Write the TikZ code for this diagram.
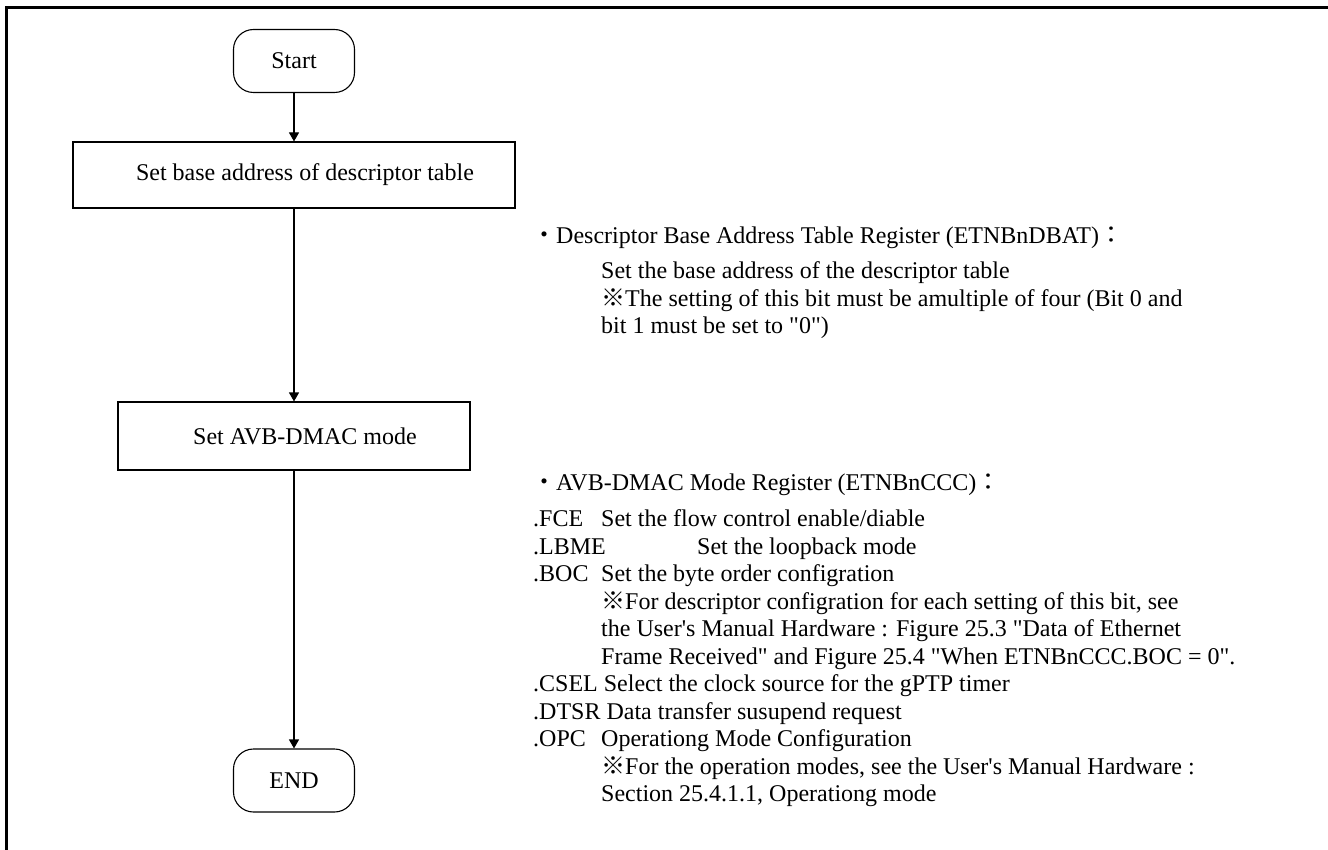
\documentclass[tikz,border=0pt]{standalone}
\usepackage{fontspec}
\setmainfont{Liberation Serif}[Ligatures=TeXOff]
\newfontfamily\cjkfont{Noto Sans CJK JP}
\usetikzlibrary{arrows.meta}
\newcommand{\jdot}{{\cjkfont ・}}
\newcommand{\jcolon}{{\cjkfont ：}}
\newcommand{\jmark}{{\cjkfont ※}}
\newcommand{\fld}[1]{\makebox[68pt][l]{#1}}
\begin{document}
\begin{tikzpicture}[x=1pt,y=-1pt,
  terminal/.style={draw, line width=1.1pt, rounded corners=20pt,
    minimum width=121pt, minimum height=63pt, inner sep=0pt,
    font=\fontsize{24}{28}\selectfont},
  process/.style={draw, line width=1.1pt, inner sep=0pt,
    font=\fontsize{24}{28}\selectfont},
  flow/.style={line width=1.1pt, -{Triangle[length=9pt,width=10pt]}},
  note/.style={anchor=base west, inner sep=0pt,
    font=\fontsize{24}{28}\selectfont},
]
\useasboundingbox (0,0) rectangle (1328,850);
% frame edges
\draw[line width=2.5pt] (6.5,850) -- (6.5,7.5) -- (1328,7.5);

% flow chart
\node[terminal] (start) at (294,61) {Start};
\node[process, minimum width=442pt, minimum height=66pt] (base) at (294,175)
  {\hspace*{22pt}Set base address of descriptor table};
\node[process, minimum width=352pt, minimum height=68pt] (mode) at (294,436)
  {\hspace*{22pt}Set AVB-DMAC mode};
\node[terminal] (end) at (294,780.5) {END};

\draw[flow] (start) -- (base);
\draw[flow] (base) -- (mode);
\draw[flow] (mode) -- (end);

% notes for the descriptor base address
\node[note] (a1) at (532,244) {\jdot Descriptor Base Address Table Register (ETNBnDBAT)\jcolon};
\node[note] (a2) at (601,279) {Set the base address of the descriptor table};
\node[note] (a3) at (601,306.5) {\jmark The setting of this bit must be amultiple of four (Bit 0 and};
\node[note] (a4) at (601,334) {bit 1 must be set to "0")};

% notes for the AVB-DMAC mode register
\node[note] (b0) at (532,490) {\jdot AVB-DMAC Mode Register (ETNBnCCC)\jcolon};
\node[note] (b1) at (533,526.5) {\fld{.FCE}Set the flow control enable/diable};
\node[note] (b2) at (533,554) {\makebox[164pt][l]{.LBME}Set the loopback mode};
\node[note] (b3) at (533,581.5) {\fld{.BOC}Set the byte order configration};
\node[note] (b4) at (601,609) {\jmark For descriptor configration for each setting of this bit, see};
\node[note] (b5) at (601,636.5) {the User's Manual Hardware : Figure 25.3 "Data of Ethernet};
\node[note] (b6) at (601,664) {Frame Received" and Figure 25.4 "When ETNBnCCC.BOC = 0".};
\node[note] (b7) at (533,691.5) {.CSEL Select the clock source for the gPTP timer};
\node[note] (b8) at (533,719) {.DTSR Data transfer susupend request};
\node[note] (b9) at (533,746.5) {\fld{.OPC}Operationg Mode Configuration};
\node[note] (b10) at (601,774) {\jmark For the operation modes, see the User's Manual Hardware :};
\node[note] (b11) at (601,801.5) {Section 25.4.1.1, Operationg mode};
\end{tikzpicture}
\end{document}
